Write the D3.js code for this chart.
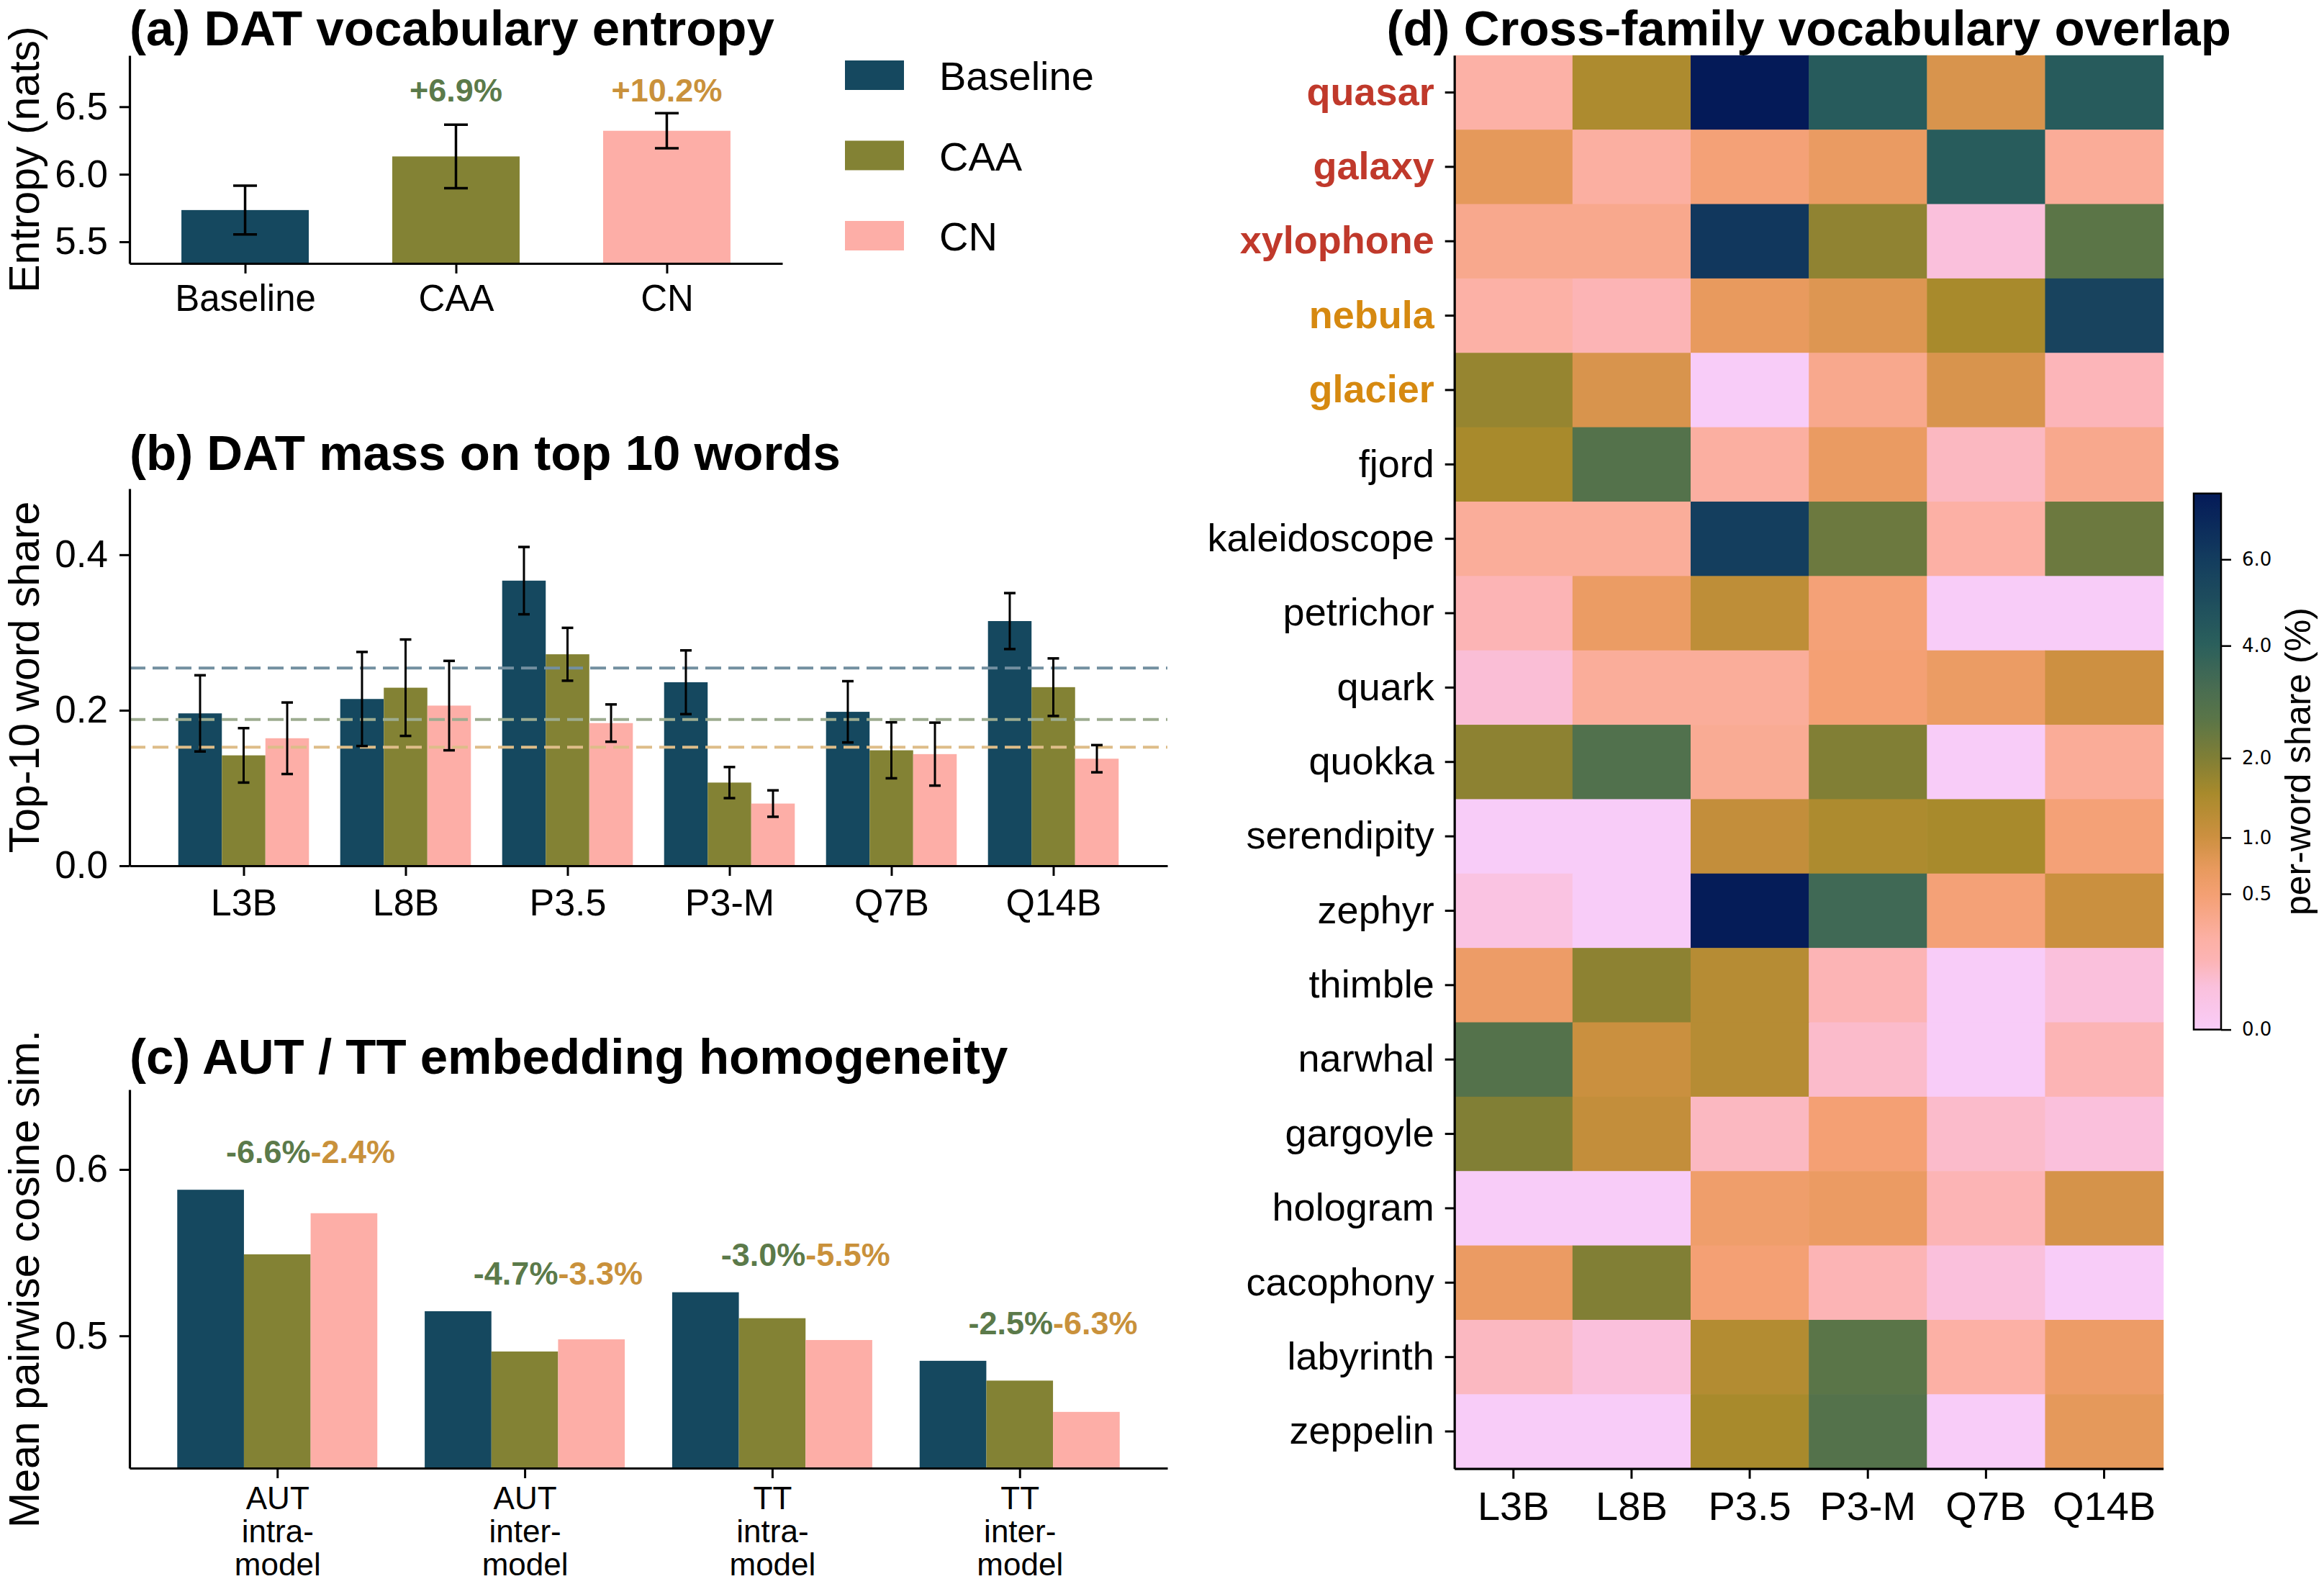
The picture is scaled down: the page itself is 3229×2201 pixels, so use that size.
<!DOCTYPE html>
<html><head><meta charset="utf-8">
<script src="https://cdn.jsdelivr.net/npm/d3@7"></script>
<style>
body{margin:0;background:#fff}
svg{display:block}
</style>
</head><body>
<svg id="chart" width="3229" height="2201"></svg>
<script>
// ---------------- DATA ----------------
const conditions = ["Baseline", "CAA", "CN"];
// (a) entropy
const entropyMean = [5.735, 6.132, 6.322];
const entropyErr = [0.18, 0.235, 0.13];
const entropyNotes = ["", "+6.9%", "+10.2%"];
const entropyTicks = [5.5, 6.0, 6.5];
// (b) top-10 share
const models = ["L3B", "L8B", "P3.5", "P3-M", "Q7B", "Q14B"];
const top10Baseline = [0.196, 0.2145, 0.3667, 0.236, 0.198, 0.3147];
const top10CAA = [0.142, 0.229, 0.272, 0.107, 0.1485, 0.2297];
const top10CN = [0.164, 0.206, 0.1835, 0.080, 0.1436, 0.1377];
const top10BaselineErr = [0.049, 0.0605, 0.0433, 0.041, 0.0394, 0.036];
const top10CAAErr = [0.035, 0.062, 0.034, 0.020, 0.036, 0.037];
const top10CNErr = [0.046, 0.0575, 0.024, 0.017, 0.0405, 0.0175];
const top10Ticks = [0.0, 0.2, 0.4];
// (c) homogeneity
const homoCats = [["AUT", "intra-", "model"], ["AUT", "inter-", "model"], ["TT", "intra-", "model"], ["TT", "inter-", "model"]];
const homoBaseline = [0.5878, 0.5148, 0.5262, 0.4850];
const homoCAA = [0.5490, 0.4906, 0.5106, 0.4731];
const homoCN = [0.5737, 0.4979, 0.4975, 0.4543];
const homoNotesCAA = ["-6.6%", "-4.7%", "-3.0%", "-2.5%"];
const homoNotesCN = ["-2.4%", "-3.3%", "-5.5%", "-6.3%"];
const homoTicks = [0.5, 0.6];
// (d) heatmap (per-word share, %)
const words = ["quasar", "galaxy", "xylophone", "nebula", "glacier", "fjord", "kaleidoscope", "petrichor", "quark", "quokka", "serendipity", "zephyr", "thimble", "narwhal", "gargoyle", "hologram", "cacophony", "labyrinth", "zeppelin"];
const redWords = ["quasar", "galaxy", "xylophone"];
const goldWords = ["nebula", "glacier"];
const shareMatrix = [
  [0.21, 1.44, 7.80, 4.27, 0.87, 4.27],
  [0.73, 0.24, 0.47, 0.66, 4.20, 0.28],
  [0.34, 0.34, 6.30, 1.80, 0.05, 2.60],
  [0.21, 0.13, 0.70, 0.82, 1.51, 5.60],
  [1.72, 0.87, 0.00, 0.34, 0.87, 0.12],
  [1.51, 2.80, 0.24, 0.66, 0.10, 0.34],
  [0.27, 0.27, 5.90, 2.32, 0.22, 2.32],
  [0.13, 0.64, 1.19, 0.47, 0.00, 0.00],
  [0.06, 0.27, 0.27, 0.49, 0.64, 1.00],
  [1.83, 2.90, 0.30, 1.99, 0.00, 0.28],
  [0.00, 0.00, 1.13, 1.44, 1.51, 0.47],
  [0.03, 0.00, 7.70, 3.40, 0.47, 1.04],
  [0.61, 1.83, 1.31, 0.13, 0.00, 0.05],
  [2.80, 1.04, 1.31, 0.08, 0.00, 0.13],
  [1.99, 1.13, 0.10, 0.49, 0.08, 0.05],
  [0.00, 0.00, 0.57, 0.65, 0.13, 0.90],
  [0.65, 1.99, 0.49, 0.13, 0.05, 0.00],
  [0.10, 0.05, 1.34, 2.62, 0.22, 0.61],
  [0.00, 0.00, 1.51, 2.80, 0.00, 0.73]
];
const cbarTicks = [0.0, 0.5, 1.0, 2.0, 4.0, 6.0];

// ---------------- STYLE ----------------
const FONT = "'Liberation Sans', Arial, Helvetica, sans-serif";
const colors = {Baseline: "#15485f", CAA: "#838234", CN: "#fdaea7"};
const noteGreen = "#5b7a4a", noteOrange = "#c9913b";
const cmapStops = [[0, "#f8ccf8"], [0.08, "#fac0dc"], [0.13, "#fcb4b4"], [0.17, "#fcb0a4"], [0.25, "#f4a074"], [0.30, "#e89a5e"], [0.36, "#cc9040"], [0.44, "#a88a2c"], [0.51, "#7e7e36"], [0.58, "#5a7548"], [0.64, "#486c52"], [0.72, "#2a5f5c"], [0.88, "#133c5e"], [1, "#041a58"]];

const svg = d3.select("#chart").style("font-family", FONT);
svg.append("rect").attr("width", 3229).attr("height", 2201).attr("fill", "#fff");

function styleAxis(g, fs) {
  g.attr("font-family", FONT).attr("font-size", fs);
  g.select(".domain").attr("stroke", "#000").attr("stroke-width", 3.2);
  g.selectAll(".tick line").attr("stroke", "#000").attr("stroke-width", 3);
  g.selectAll(".tick text").attr("fill", "#000");
}
function title(x, y, txt, anchor) {
  svg.append("text").attr("x", x).attr("y", y).attr("text-anchor", anchor || "start")
    .attr("font-size", 69).attr("font-weight", "bold").attr("fill", "#000").text(txt);
}
function ylabel(x, y, txt) {
  svg.append("text").attr("transform", `translate(${x},${y}) rotate(-90)`)
    .attr("text-anchor", "middle").attr("font-size", 59).attr("fill", "#000").text(txt);
}

// ---------------- (a) ----------------
{
  const L = 180, R = 1087, T = 77, B = 366;
  const x = d3.scalePoint().domain(conditions).range([L, R]).padding(0.548);
  const y = d3.scaleLinear().domain([5.34, 6.88]).range([B, T]);
  const bw = x.step() * 0.604;
  const g = svg.append("g");
  g.selectAll("rect").data(conditions).join("rect")
    .attr("x", d => x(d) - bw / 2).attr("width", bw)
    .attr("y", (d, i) => y(entropyMean[i])).attr("height", (d, i) => B - y(entropyMean[i]))
    .attr("fill", d => colors[d]);
  conditions.forEach((c, i) => {
    const cx = x(c), y1 = y(entropyMean[i] + entropyErr[i]), y0 = y(entropyMean[i] - entropyErr[i]);
    g.append("line").attr("x1", cx).attr("x2", cx).attr("y1", y1).attr("y2", y0).attr("stroke", "#000").attr("stroke-width", 3.5);
    [y1, y0].forEach(yy => g.append("line").attr("x1", cx - 16.5).attr("x2", cx + 16.5).attr("y1", yy).attr("y2", yy).attr("stroke", "#000").attr("stroke-width", 3.5));
  });
  const topErr = d3.max(entropyMean.map((m, i) => m + entropyErr[i]));
  const noteCols = [null, noteGreen, noteOrange];
  conditions.forEach((c, i) => {
    if (!entropyNotes[i]) return;
    g.append("text").attr("x", x(c)).attr("y", y(topErr) - 16).attr("text-anchor", "middle")
      .attr("font-size", 45).attr("font-weight", "bold").attr("fill", noteCols[i]).text(entropyNotes[i]);
  });
  const ax = svg.append("g").attr("transform", `translate(0,${B})`)
    .call(d3.axisBottom(x).tickSize(14).tickPadding(16).tickSizeOuter(0));
  styleAxis(ax, 51);
  const ay = svg.append("g").attr("transform", `translate(${L},0)`)
    .call(d3.axisLeft(y).tickValues(entropyTicks).tickFormat(d3.format(".1f")).tickSize(14).tickPadding(16).tickSizeOuter(0));
  styleAxis(ay, 53);
  title(L, 63, "(a) DAT vocabulary entropy");
  ylabel(54, (T + B) / 2, "Entropy (nats)");

  // legend
  const lg = svg.append("g");
  conditions.forEach((c, i) => {
    const yy = 84 + i * 111.5;
    lg.append("rect").attr("x", 1174).attr("y", yy).attr("width", 82).attr("height", 41).attr("fill", colors[c]);
    lg.append("text").attr("x", 1305).attr("y", yy + 41).attr("font-size", 56).attr("fill", "#000").text(c);
  });
}

// ---------------- (b) ----------------
{
  const L = 180, R = 1622, T = 679, B = 1203;
  const x = d3.scalePoint().domain(models).range([L, R]).padding(0.7045);
  const y = d3.scaleLinear().domain([0, 0.485]).range([B, T]);
  const bw = x.step() * 0.269;
  const series = [[top10Baseline, top10BaselineErr], [top10CAA, top10CAAErr], [top10CN, top10CNErr]];
  const g = svg.append("g");
  series.forEach(([vals, errs], s) => {
    g.selectAll(null).data(models).join("rect")
      .attr("x", d => x(d) + (s - 1.5) * bw).attr("width", bw)
      .attr("y", (d, i) => y(vals[i])).attr("height", (d, i) => B - y(vals[i]))
      .attr("fill", colors[conditions[s]]);
  });
  // mean dashed lines
  const dashCols = ["#738fa0", "#9dac90", "#debd89"];
  series.forEach(([vals], s) => {
    const m = d3.mean(vals);
    g.append("line").attr("x1", L).attr("x2", R).attr("y1", y(m)).attr("y2", y(m))
      .attr("stroke", dashCols[s]).attr("stroke-width", 4).attr("stroke-dasharray", "22,10");
  });
  series.forEach(([vals, errs], s) => {
    models.forEach((mname, i) => {
      const cx = x(mname) + (s - 1) * bw;
      const y1 = y(vals[i] + errs[i]), y0 = y(vals[i] - errs[i]);
      g.append("line").attr("x1", cx).attr("x2", cx).attr("y1", y1).attr("y2", y0).attr("stroke", "#000").attr("stroke-width", 3);
      [y1, y0].forEach(yy => g.append("line").attr("x1", cx - 8).attr("x2", cx + 8).attr("y1", yy).attr("y2", yy).attr("stroke", "#000").attr("stroke-width", 3.5));
    });
  });
  const ax = svg.append("g").attr("transform", `translate(0,${B})`)
    .call(d3.axisBottom(x).tickSize(14).tickPadding(18).tickSizeOuter(0));
  styleAxis(ax, 52);
  const ay = svg.append("g").attr("transform", `translate(${L},0)`)
    .call(d3.axisLeft(y).tickValues(top10Ticks).tickFormat(d3.format(".1f")).tickSize(14).tickPadding(16).tickSizeOuter(0));
  styleAxis(ay, 53);
  title(L, 653, "(b) DAT mass on top 10 words");
  ylabel(54, (T + B) / 2, "Top-10 word share");
}

// ---------------- (c) ----------------
{
  const L = 180, R = 1622, T = 1514, B = 2040;
  const idx = homoCats.map((d, i) => i);
  const x = d3.scalePoint().domain(idx).range([L, R]).padding(0.597);
  const y = d3.scaleLinear().domain([0.4205, 0.648]).range([B, T]);
  const bw = x.step() * 0.2695;
  const series = [homoBaseline, homoCAA, homoCN];
  const g = svg.append("g");
  series.forEach((vals, s) => {
    g.selectAll(null).data(idx).join("rect")
      .attr("x", d => x(d) + (s - 1.5) * bw).attr("width", bw)
      .attr("y", d => y(vals[d])).attr("height", d => B - y(vals[d]))
      .attr("fill", colors[conditions[s]]);
  });
  idx.forEach(i => {
    const top = d3.max(series, v => v[i]);
    const xx = x(i) + bw / 2, yy = y(top) - 37;
    g.append("text").attr("x", xx).attr("y", yy).attr("text-anchor", "end").attr("font-size", 45)
      .attr("font-weight", "bold").attr("fill", noteGreen).text(homoNotesCAA[i]);
    g.append("text").attr("x", xx).attr("y", yy).attr("text-anchor", "start").attr("font-size", 45)
      .attr("font-weight", "bold").attr("fill", noteOrange).text(homoNotesCN[i]);
  });
  const ax = svg.append("g").attr("transform", `translate(0,${B})`)
    .call(d3.axisBottom(x).tickSize(14).tickFormat(() => "").tickSizeOuter(0));
  styleAxis(ax, 45);
  ax.selectAll(".tick").each(function (d) {
    const t = d3.select(this).append("text").attr("fill", "#000").attr("text-anchor", "middle").attr("font-size", 44);
    homoCats[d].forEach((line, k) => t.append("tspan").attr("x", 0).attr("y", 57 + k * 46).text(line));
  });
  const ay = svg.append("g").attr("transform", `translate(${L},0)`)
    .call(d3.axisLeft(y).tickValues(homoTicks).tickFormat(d3.format(".1f")).tickSize(14).tickPadding(16).tickSizeOuter(0));
  styleAxis(ay, 53);
  title(L, 1492, "(c) AUT / TT embedding homogeneity");
  ylabel(54, 1777, "Mean pairwise cosine sim.");
}

// ---------------- (d) ----------------
{
  const L = 2020.7, R = 3005.6, T = 76.8, B = 2040.7;
  const x = d3.scaleBand().domain(models).range([L, R]);
  const y = d3.scaleBand().domain(words).range([T, B]);
  const vmax = d3.max(shareMatrix.flat());
  const norm = d3.scalePow().exponent(0.5).domain([0, vmax]).range([0, 1]);
  const cmap = d3.scaleLinear().domain(cmapStops.map(d => d[0])).range(cmapStops.map(d => d[1])).interpolate(d3.interpolateRgb).clamp(true);
  const cells = [];
  words.forEach((w, r) => models.forEach((m, c) => cells.push({w, m, v: shareMatrix[r][c]})));
  svg.append("g").selectAll("rect").data(cells).join("rect")
    .attr("x", d => x(d.m)).attr("y", d => y(d.w))
    .attr("width", x.bandwidth() + 0.6).attr("height", y.bandwidth() + 0.6)
    .attr("fill", d => cmap(norm(d.v)));
  const ax = svg.append("g").attr("transform", `translate(0,${B})`)
    .call(d3.axisBottom(x).tickSize(14).tickPadding(18).tickSizeOuter(0));
  styleAxis(ax, 56);
  const ay = svg.append("g").attr("transform", `translate(${L},0)`)
    .call(d3.axisLeft(y).tickSize(13).tickPadding(15).tickSizeOuter(0));
  styleAxis(ay, 54);
  ay.selectAll(".tick text")
    .attr("fill", d => redWords.includes(d) ? "#c0392b" : goldWords.includes(d) ? "#d68910" : "#000")
    .attr("font-weight", d => (redWords.includes(d) || goldWords.includes(d)) ? "bold" : "normal");
  title((L + R) / 2, 63, "(d) Cross-family vocabulary overlap", "middle");

  // colorbar
  const cx0 = 3048, cw = 38, cT = 685.7, cB = 1430.6;
  const cy = d3.scalePow().exponent(0.5).domain([0, vmax]).range([cB, cT]);
  const defs = svg.append("defs");
  const grad = defs.append("linearGradient").attr("id", "cbgrad").attr("x1", 0).attr("y1", 1).attr("x2", 0).attr("y2", 0);
  d3.range(0, 1.0001, 0.01).forEach(t => grad.append("stop").attr("offset", t).attr("stop-color", cmap(t)));
  svg.append("rect").attr("x", cx0).attr("y", cT).attr("width", cw).attr("height", cB - cT).attr("fill", "url(#cbgrad)");
  svg.append("rect").attr("x", cx0).attr("y", cT).attr("width", cw).attr("height", cB - cT)
    .attr("fill", "none").attr("stroke", "#000").attr("stroke-width", 2.5);
  const cax = svg.append("g").attr("transform", `translate(${cx0 + cw},0)`)
    .call(d3.axisRight(cy).tickValues(cbarTicks).tickFormat(d3.format(".1f")).tickSize(14).tickPadding(15));
  cax.select(".domain").remove();
  cax.selectAll(".tick line").attr("stroke", "#000").attr("stroke-width", 2.5);
  cax.selectAll(".tick text").attr("fill", "#000").attr("font-size", 26).attr("font-family", "'DejaVu Sans', sans-serif");
  svg.append("text").attr("transform", `translate(3210,${(cT + cB) / 2}) rotate(-90)`)
    .attr("text-anchor", "middle").attr("font-size", 50).attr("fill", "#000").text("per-word share (%)");
}
</script>
</body></html>
